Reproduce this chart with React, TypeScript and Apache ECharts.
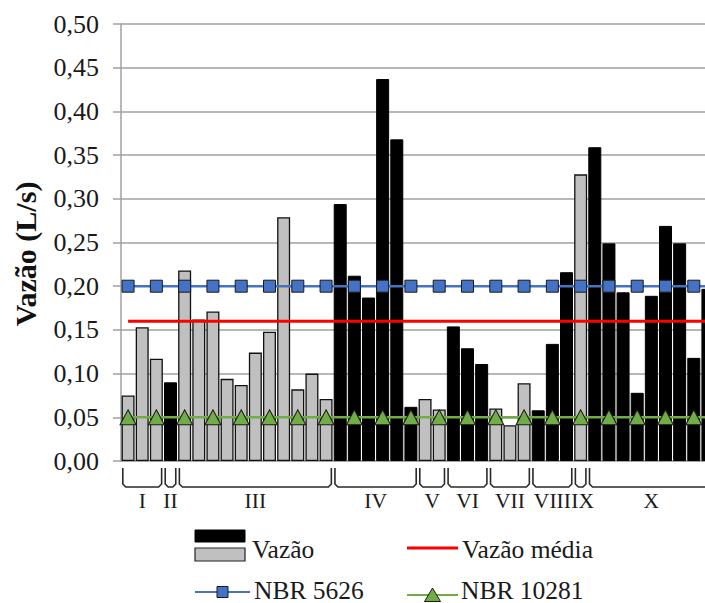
import React, { useEffect, useRef } from "react";
import * as echarts from "echarts";

const categories = ["1","2","3","4","5","6","7","8","9","10","11","12","13","14","15","16","17","18","19","20","21","22","23","24","25","26","27","28","29","30","31","32","33","34","35","36","37","38","39","40","41","42"];

// "Vazão" bars drawn in black
const vazaoBlack = [null,null,null,0.090,null,null,null,null,null,null,null,null,null,null,null,0.294,0.212,0.187,0.437,0.368,0.062,null,null,0.154,0.129,0.111,null,null,null,0.058,0.134,0.216,null,0.359,0.249,0.193,0.078,0.189,0.269,0.249,0.118,0.197];
// "Vazão" bars drawn in grey
const vazaoGray = [0.075,0.153,0.117,null,0.218,0.162,0.171,0.094,0.087,0.124,0.148,0.279,0.082,0.100,0.071,null,null,null,null,null,null,0.071,0.059,null,null,null,0.060,0.041,0.089,null,null,null,0.328,null,null,null,null,null,null,null,null,null];

const vazaoMedia = 0.16;
const nbr5626 = 0.20;
const nbr10281 = 0.05;

const groupLabels = ["I","II","III","IV","V","VI","VII","VIII","IX","X"];
const groupSizes = [3,1,11,6,2,3,3,3,1,9];

const yTicks = { min: 0, max: 0.5, interval: 0.05 };

const SERIF = "Liberation Serif";

export default function App() {
  const ref = useRef<HTMLDivElement>(null);
  useEffect(() => {
    if (!ref.current) return;
    const chart = echarts.init(ref.current, null, { renderer: "svg" });
    const constLine = (v: number, sym: string) =>
      categories.map((_, i) => ({ value: v, symbol: i % 2 === 0 ? sym : "none" }));
    chart.setOption({
      animation: false,
      backgroundColor: "#fff",
      grid: { left: 121, top: 24, width: 594, height: 437 },
      xAxis: {
        type: "category",
        data: categories,
        boundaryGap: true,
        axisLine: { show: true, lineStyle: { color: "#a0a0a0", width: 1.5 } },
        axisTick: { show: false },
        axisLabel: { show: false },
        splitLine: { show: false },
      },
      yAxis: {
        type: "value",
        min: yTicks.min,
        max: yTicks.max,
        interval: yTicks.interval,
        axisLine: { show: true, lineStyle: { color: "#a0a0a0", width: 1.5 } },
        axisTick: { show: true, inside: false, length: 8, lineStyle: { color: "#a0a0a0", width: 1.5 } },
        axisLabel: {
          margin: 22,
          fontFamily: SERIF,
          fontSize: 26,
          color: "#1a1a1a",
          formatter: (v: number) => v.toFixed(2).replace(".", ","),
        },
        splitLine: { show: true, lineStyle: { color: "#a0a0a0", width: 1.5 } },
      },
      series: [
        {
          name: "Vazão",
          type: "bar",
          stack: "v",
          data: vazaoBlack,
          barWidth: 13,
          itemStyle: { color: "#000", borderColor: "#000", borderWidth: 1 },
          z: 2,
        },
        {
          name: "Vazão ",
          type: "bar",
          stack: "v",
          data: vazaoGray,
          barWidth: 13,
          itemStyle: { color: "#c0c0c0", borderColor: "#111", borderWidth: 1.3 },
          z: 2,
        },
        {
          name: "Vazão média",
          type: "line",
          data: categories.map(() => vazaoMedia),
          symbol: "none",
          lineStyle: { color: "#ff0000", width: 3 },
          z: 5,
        },
        {
          name: "NBR 10281",
          type: "line",
          data: constLine(nbr10281, "triangle"),
          showAllSymbol: true,
          symbolSize: [16, 15],
          lineStyle: { color: "#70ad47", width: 2.5 },
          itemStyle: { color: "#70ad47", borderColor: "#1a1a1a", borderWidth: 1 },
          z: 6,
        },
        {
          name: "NBR 5626",
          type: "line",
          data: constLine(nbr5626, "rect"),
          showAllSymbol: true,
          symbolSize: 12,
          lineStyle: { color: "#4472c4", width: 2.5 },
          itemStyle: { color: "#4472c4", borderColor: "#1a1a1a", borderWidth: 1 },
          z: 6,
        },
      ],
    });

    // Group brackets and labels beneath the x axis, from the axis' own positions
    const c0 = chart.convertToPixel({ xAxisIndex: 0 }, 0) as number;
    const c1 = chart.convertToPixel({ xAxisIndex: 0 }, 1) as number;
    const bw = c1 - c0;
    const y0 = chart.convertToPixel({ yAxisIndex: 0 }, 0) as number;
    const top = y0 + 7;
    const bot = y0 + 26;
    const graphics: any[] = [];
    let start = 0;
    groupSizes.forEach((n, gi) => {
      const left = (chart.convertToPixel({ xAxisIndex: 0 }, start) as number) - bw / 2 + 1.8;
      const right = (chart.convertToPixel({ xAxisIndex: 0 }, start + n - 1) as number) + bw / 2 - 1.8;
      graphics.push({
        type: "polyline",
        silent: true,
        shape: { points: [[left, top], [left, bot - 3], [left + 3, bot], [right - 3, bot], [right, bot - 3], [right, top]] },
        style: { stroke: "#2a2a2a", lineWidth: 1.6, fill: null },
      });
      const nudge = groupLabels[gi] === "IX" ? 2 : 0;
      graphics.push({
        type: "text",
        silent: true,
        x: (left + right) / 2 + nudge,
        y: y0 + 40,
        style: { text: groupLabels[gi], fontFamily: SERIF, fontSize: 21.5, fill: "#1a1a1a", align: "center", verticalAlign: "middle" },
      });
      start += n;
    });

    // Y axis title
    graphics.push({
      type: "text",
      silent: true,
      x: 25,
      y: 254,
      rotation: Math.PI / 2,
      style: { text: "Vazão (L/s)", fontFamily: SERIF, fontWeight: "bold", fontSize: 30, fill: "#111", align: "center", verticalAlign: "middle" },
    });

    // Legend
    const lt = (text: string, x: number, y: number) => ({
      type: "text", silent: true, x, y,
      style: { text, fontFamily: SERIF, fontSize: 25.5, fill: "#1a1a1a", verticalAlign: "middle" },
    });
    graphics.push(
      { type: "rect", silent: true, shape: { x: 195, y: 530, width: 50, height: 12 }, style: { fill: "#000", stroke: "#000", lineWidth: 1 } },
      { type: "rect", silent: true, shape: { x: 195, y: 548, width: 50, height: 13 }, style: { fill: "#c0c0c0", stroke: "#222", lineWidth: 1.2 } },
      lt("Vazão", 252, 549),
      { type: "line", silent: true, shape: { x1: 407, y1: 548, x2: 458, y2: 548 }, style: { stroke: "#ff0000", lineWidth: 3 } },
      lt("Vazão média", 462, 549),
      { type: "line", silent: true, shape: { x1: 195, y1: 592, x2: 250, y2: 592 }, style: { stroke: "#4472c4", lineWidth: 2 } },
      { type: "rect", silent: true, shape: { x: 217, y: 586.5, width: 11, height: 11 }, style: { fill: "#4472c4", stroke: "#1a1a1a", lineWidth: 1 } },
      lt("NBR 5626", 254, 590),
      { type: "line", silent: true, shape: { x1: 407, y1: 595, x2: 458, y2: 595 }, style: { stroke: "#70ad47", lineWidth: 2 } },
      { type: "polygon", silent: true, shape: { points: [[432.5, 588], [440.5, 601.5], [424.5, 601.5]] }, style: { fill: "#70ad47", stroke: "#1a1a1a", lineWidth: 1 } },
      lt("NBR 10281", 461, 590)
    );

    chart.setOption({ graphic: graphics });
    return () => chart.dispose();
  }, []);
  return (
    <div style={{ width: 705, height: 603, position: "absolute", left: 0, top: 0, overflow: "hidden" }}>
      <div ref={ref} style={{ width: 722, height: 603 }} />
    </div>
  );
}
